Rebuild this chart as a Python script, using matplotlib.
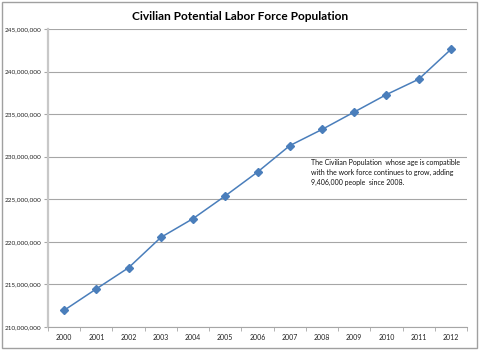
import matplotlib.pyplot as plt
from matplotlib.patches import Rectangle
from matplotlib.ticker import FuncFormatter
import numpy as np

years = ["2000", "2001", "2002", "2003", "2004", "2005", "2006",
         "2007", "2008", "2009", "2010", "2011", "2012"]
population = [211_960_000, 214_480_000, 216_960_000, 220_520_000, 222_730_000,
              225_400_000, 228_200_000, 231_300_000, 233_200_000, 235_250_000,
              237_300_000, 239_100_000, 242_610_000]
yticks = np.arange(210_000_000, 245_000_001, 5_000_000)

plt.rcParams["font.family"] = ["Lato", "DejaVu Sans"]

fig = plt.figure(figsize=(4.8, 3.51), dpi=100)
ax = fig.add_axes([0.1, 0.0684, 0.873, 0.849])

x = np.arange(len(years))
ax.plot(x, population, color="#4a7ebb", linewidth=1.1, marker="D",
        markersize=3.6, markerfacecolor="#4a7ebb", markeredgecolor="#4a7ebb")

ax.set_xlim(-0.5, len(years) - 0.5)
ax.set_ylim(210_000_000, 245_000_000)
ax.set_yticks(yticks)
ax.yaxis.set_major_formatter(FuncFormatter(lambda v, p: f"{int(v):,}"))
ax.set_xticks(x)
ax.set_xticklabels(years)
ax.set_xticks(np.arange(-0.5, len(years), 1), minor=True)

ax.grid(axis="y", color="#a6a6a6", linewidth=0.8)
ax.set_axisbelow(True)
ax.tick_params(axis="y", labelsize=4.6, length=3, color="#a6a6a6", pad=2, labelcolor="#222222")
ax.tick_params(axis="x", which="major", length=0, labelsize=5.0, pad=5, labelcolor="#222222")
ax.tick_params(axis="x", which="minor", length=3, color="#a6a6a6")
for s in ["top", "right"]:
    ax.spines[s].set_visible(False)
ax.spines["left"].set_color("#c8c8c8")
ax.spines["left"].set_linewidth(1.6)
ax.spines["bottom"].set_color("#a6a6a6")
ax.spines["bottom"].set_linewidth(0.8)

fig.text(0.5, 0.953, "Civilian Potential Labor Force Population", ha="center",
         va="center", fontsize=8.6, fontweight="bold")

ax.text(7.66, 229_700_000,
        "The Civilian Population  whose age is compatible\n"
        "with the work force continues to grow, adding\n"
        "9,406,000 people  since 2008.",
        fontsize=5.0, va="top", ha="left", linespacing=1.45, color="#111111")

fig.patches.append(Rectangle((0.004, 0.008), 0.99, 0.985, transform=fig.transFigure,
                             fill=False, edgecolor="#a0a0a0", linewidth=1.0))

fig.savefig("out.png", dpi=100)
